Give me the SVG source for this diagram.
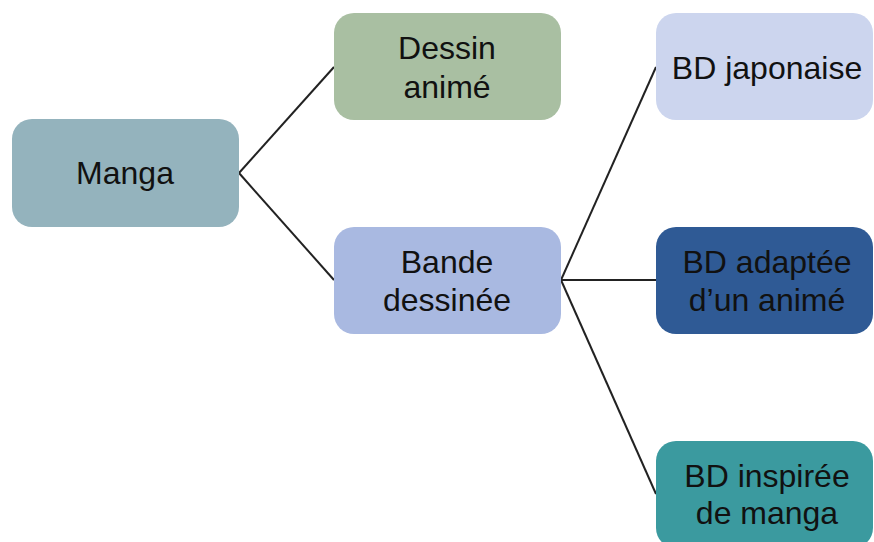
<svg xmlns="http://www.w3.org/2000/svg" width="874" height="542" viewBox="0 0 874 542">
<style>
.n{stroke:none}
.t{font-family:"Liberation Sans",Arial,sans-serif;font-size:32px;fill:#111;text-anchor:middle}
.c{stroke:#222;stroke-width:2;fill:none}
</style>
<rect width="874" height="542" fill="#fff"/>
<g id="connectors">
<line class="c" x1="239" y1="173" x2="334" y2="67"/>
<line class="c" x1="239" y1="173" x2="334" y2="280"/>
<line class="c" x1="561" y1="280" x2="656" y2="67"/>
<line class="c" x1="561" y1="280" x2="656" y2="280"/>
<line class="c" x1="561" y1="280" x2="656" y2="494"/>
</g>
<g id="manga">
<rect class="n" x="12" y="119" width="227" height="108" rx="20" fill="#94b3bd"/>
<text class="t" x="125" y="184">Manga</text>
</g>
<g id="dessin-anime">
<rect class="n" x="334" y="13" width="227" height="107" rx="20" fill="#a9bfa2"/>
<text class="t" x="447" y="59">Dessin</text>
<text class="t" x="447" y="98">animé</text>
</g>
<g id="bande-dessinee">
<rect class="n" x="334" y="227" width="227" height="107" rx="20" fill="#a9b9e1"/>
<text class="t" x="447" y="273">Bande</text>
<text class="t" x="447" y="311">dessinée</text>
</g>
<g id="bd-japonaise">
<rect class="n" x="656" y="13" width="217" height="107" rx="20" fill="#ccd5ee"/>
<text class="t" x="767" y="79">BD japonaise</text>
</g>
<g id="bd-adaptee">
<rect class="n" x="656" y="227" width="217" height="107" rx="20" fill="#2f5a95"/>
<text class="t" x="767" y="273">BD adaptée</text>
<text class="t" x="767" y="311">d’un animé</text>
</g>
<g id="bd-inspiree">
<rect class="n" x="656" y="441" width="217" height="107" rx="20" fill="#3b9a9f"/>
<text class="t" x="767" y="487">BD inspirée</text>
<text class="t" x="767" y="524">de manga</text>
</g>
</svg>
